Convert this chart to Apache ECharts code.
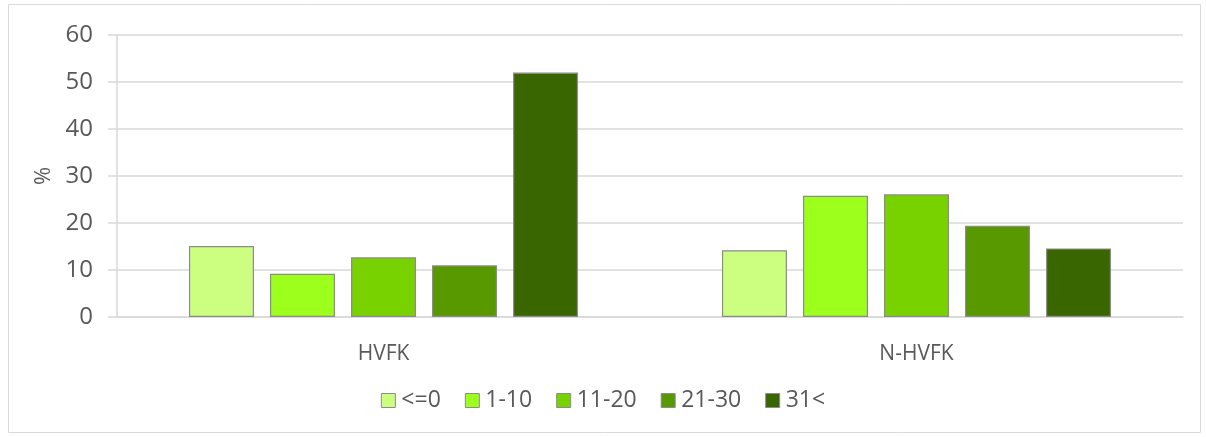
<!DOCTYPE html>
<html><head><meta charset="utf-8">
<script src="https://cdn.jsdelivr.net/npm/echarts@6/dist/echarts.min.js"></script>
<style>html,body{margin:0;padding:0;background:#fff}#c{width:1206px;height:437px}</style>
</head><body><div id="c"></div>
<script>
const categories = ['HVFK', 'N-HVFK'];
const seriesNames = ['<=0', '1-10', '11-20', '21-30', '31<'];
const s_le0 = [15.1, 14.2];
const s_1_10 = [9.2, 25.8];
const s_11_20 = [12.7, 26.1];
const s_21_30 = [11.0, 19.4];
const s_31 = [52.0, 14.6];
const colors = ['#CCFF80', '#9CFF1C', '#77D200', '#589900', '#3A6600'];
const values = [s_le0, s_1_10, s_11_20, s_21_30, s_31];

const chart = echarts.init(document.getElementById('c'));
const font = '"Open Sans", "Liberation Sans", sans-serif';
chart.setOption({
  animation: false,
  graphic: [{type:'rect', shape:{x:8.5,y:4.5,width:1192,height:428}, style:{fill:'none', stroke:'#D9D9D9', lineWidth:1}, silent:true}],
  grid: {left:117, right:23, top:35, bottom:120},
  legend: {
    bottom: 20, left: 'center', itemWidth: 14, itemHeight: 14, itemGap: 24,
    icon: 'rect',
    textStyle: {color:'#595959', fontSize:23, fontFamily:font, padding:[0,0,0,1]},
    data: seriesNames.map(n => ({name:n, itemStyle:{borderColor:'#8c8c8c', borderWidth:1}}))
  },
  xAxis: {
    type:'category', data:categories,
    axisLine:{lineStyle:{color:'#D9D9D9', width:1.5}},
    axisTick:{show:false},
    axisLabel:{color:'#595959', fontSize:21, fontFamily:font, margin:27}
  },
  yAxis: {
    type:'value', min:0, max:60, interval:10,
    name:'%', nameLocation:'middle', nameGap:62, nameRotate:90,
    nameTextStyle:{color:'#595959', fontSize:22, fontFamily:font},
    axisLine:{show:true, lineStyle:{color:'#D9D9D9', width:1.5}},
    axisTick:{show:true, inside:false, length:9, lineStyle:{color:'#D9D9D9', width:1.5}},
    splitLine:{lineStyle:{color:'#D9D9D9', width:1.5}},
    axisLabel:{color:'#595959', fontSize:24, fontFamily:font, margin:24}
  },
  series: seriesNames.map((n,i) => ({
    name:n, type:'bar', data:values[i],
    barGap:'24.6%', barCategoryGap:'27%',
    itemStyle:{color:colors[i], borderColor:'#8c8c8c', borderWidth:1.2}
  }))
});
</script></body></html>
